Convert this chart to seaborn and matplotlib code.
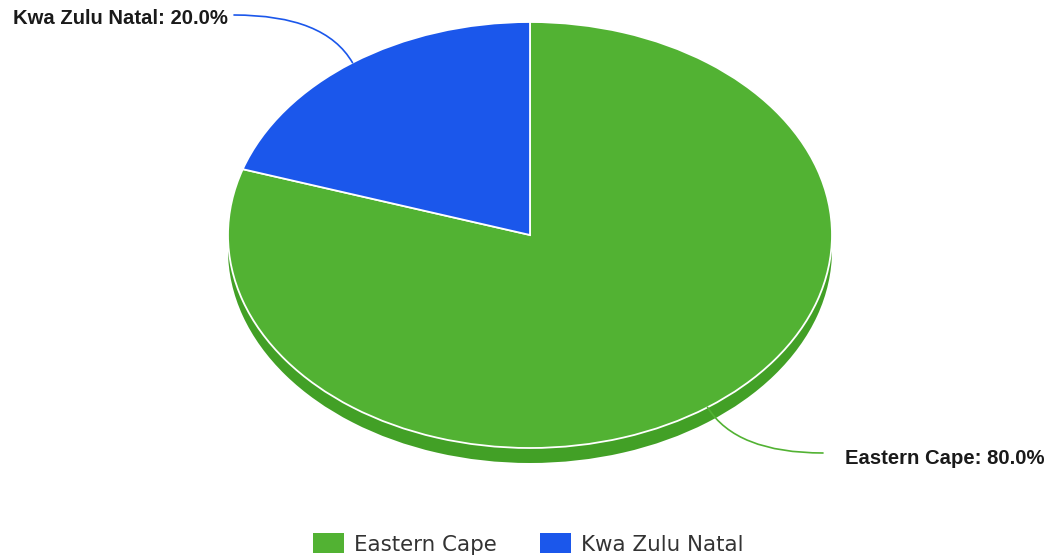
import numpy as np
import seaborn as sns
import matplotlib.pyplot as plt
from matplotlib.patches import Patch, Rectangle

# Data
regions = ["Eastern Cape", "Kwa Zulu Natal"]
shares = [80.0, 20.0]
colours = ["#52b233", "#1b57eb"]
side_colours = ["#42a026", "#1645c0"]

sns.set_theme(style="white")
plt.rcParams['font.family'] = ['Liberation Sans', 'DejaVu Sans']

W, H = 1055, 558
cx, cy, rx, ry, depth = 530, 235, 302, 213, 15

fig = plt.figure(figsize=(W / 100, H / 100), dpi=100)
ax = fig.add_axes([0, 0, 1, 1])

# side wall of the "3d" pie
d = depth / ry
ax.add_patch(Rectangle((-1, -d), 2, d, color=side_colours[0], lw=0))
ax.pie(shares, colors=side_colours, startangle=90, counterclock=False,
       center=(0, -d), radius=1, wedgeprops=dict(linewidth=0))
# top face
ax.pie(shares, colors=colours, startangle=90, counterclock=False,
       center=(0, 0), radius=1,
       wedgeprops=dict(edgecolor="white", linewidth=1.3))

ax.set_xlim(-cx / rx, (W - cx) / rx)
ax.set_ylim(-(H - cy) / ry, cy / ry)
ax.set_aspect('auto')
ax.axis('off')

# label connectors
total = sum(shares)
mids = 90 - 360 * (np.cumsum(shares) - np.array(shares) / 2) / total
anchors = [(np.cos(np.radians(m)), np.sin(np.radians(m))) for m in mids]

ax.annotate("", xy=anchors[1], xytext=(234, H - 15), textcoords='figure pixels',
            arrowprops=dict(arrowstyle='-', color=colours[1], lw=1.2,
                            shrinkA=0, shrinkB=0,
                            connectionstyle='angle3,angleA=0,angleB=-60'))
ax.annotate("", xy=anchors[0], xytext=(823, H - 453), textcoords='figure pixels',
            arrowprops=dict(arrowstyle='-', color=colours[0], lw=1.2,
                            shrinkA=0, shrinkB=0,
                            connectionstyle='angle3,angleA=0,angleB=-58'))

fig.text(228 / W, 1 - 18 / H, f"{regions[1]}: {shares[1]:.1f}%", ha='right',
         va='center', fontsize=14.6, fontweight='bold', color='#1a1a1a')
fig.text(845 / W, 1 - 458 / H, f"{regions[0]}: {shares[0]:.1f}%", ha='left',
         va='center', fontsize=14.6, fontweight='bold', color='#1a1a1a')

# legend
handles = [Patch(facecolor=c, edgecolor='none') for c in colours]
fig.legend(handles, regions, loc='center', ncol=2, frameon=False,
           bbox_to_anchor=(528 / W, 14 / H),
           prop={'family': 'DejaVu Sans', 'size': 15.4},
           labelcolor='#333333', handlelength=1.45, handleheight=1.03,
           handletextpad=0.47, columnspacing=2.0, borderpad=0)

plt.savefig('out.png', dpi=100)
